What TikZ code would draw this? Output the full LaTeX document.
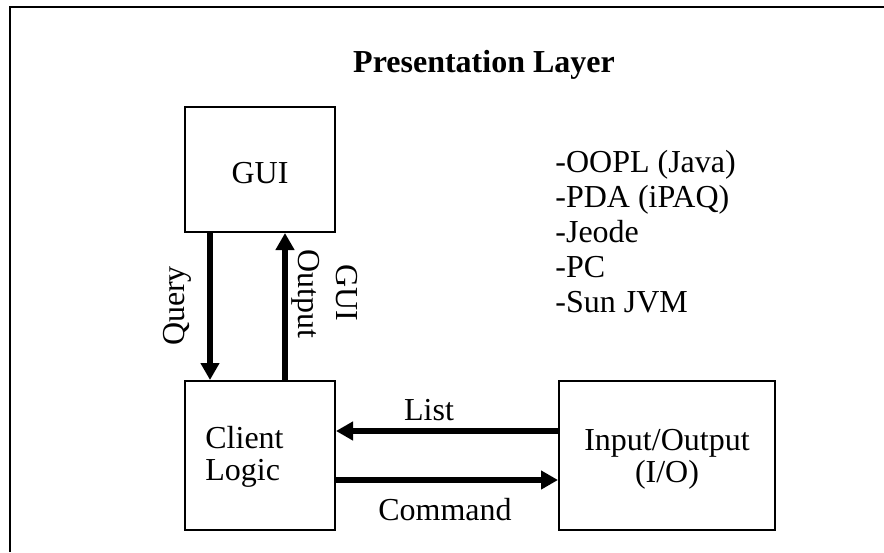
\documentclass[tikz,border=0pt]{standalone}
\usepackage{fontspec}
\setmainfont{Liberation Serif}
\usetikzlibrary{arrows.meta}
\begin{document}
\begin{tikzpicture}[x=0.5pt,y=-0.5pt,
  font=\fontsize{16pt}{18pt}\selectfont,
  box/.style={draw, line width=1pt, inner sep=0pt, minimum height=74.5pt},
  arr/.style={line width=3pt, -{Triangle[length=8.5pt,width=9pt]}},
  lbl/.style={inner sep=0pt, anchor=base},
  frameline/.style={line width=1.2pt}]
\useasboundingbox (0,0) rectangle (884,552);
\draw[frameline] (10,552) -- (10,7) -- (884,7);
\node[lbl, font=\fontsize{16pt}{18pt}\selectfont\bfseries] (title) at (484,72) {Presentation Layer};
\node[box, minimum width=75pt, minimum height=62.5pt] (gui) at (260,169.5) {};
\node[lbl] (guitext) at (260,183) {GUI};
\node[box, minimum width=75pt] (client) at (260,455.5) {};
\node[lbl, anchor=base west] (clienttext) at (205,448) {Client};
\node[lbl, anchor=base west] (logictext) at (205,480) {Logic};
\node[box, minimum width=108pt] (io) at (667,455.5) {};
\node[lbl] (iotext) at (667,450) {Input/Output};
\node[lbl] (iotext2) at (667,482) {(I/O)};
\node[lbl, anchor=base west] (l1) at (555,172) {-OOPL (Java)};
\node[lbl, anchor=base west] (l2) at (555,207) {-PDA (iPAQ)};
\node[lbl, anchor=base west] (l3) at (555,242) {-Jeode};
\node[lbl, anchor=base west] (l4) at (555,277) {-PC};
\node[lbl, anchor=base west] (l5) at (555,312) {-Sun JVM};
\draw[arr] ([xshift=-25pt]gui.south) -- ([xshift=-25pt]client.north);
\draw[arr] ([xshift=12.5pt]client.north) -- ([xshift=12.5pt]gui.south);
\draw[arr] ([yshift=12.25pt]io.west) -- ([yshift=12.25pt]client.east);
\draw[arr] ([yshift=-12.25pt]client.east) -- ([yshift=-12.25pt]io.west);
\node[lbl, rotate=90] (query) at (184,306) {Query};
\node[lbl, rotate=-90] (output) at (298,294) {Output};
\node[lbl, rotate=-90] (guilbl) at (336,293) {GUI};
\node[lbl] (list) at (429,420) {List};
\node[lbl] (command) at (445,520) {Command};
\end{tikzpicture}
\end{document}
